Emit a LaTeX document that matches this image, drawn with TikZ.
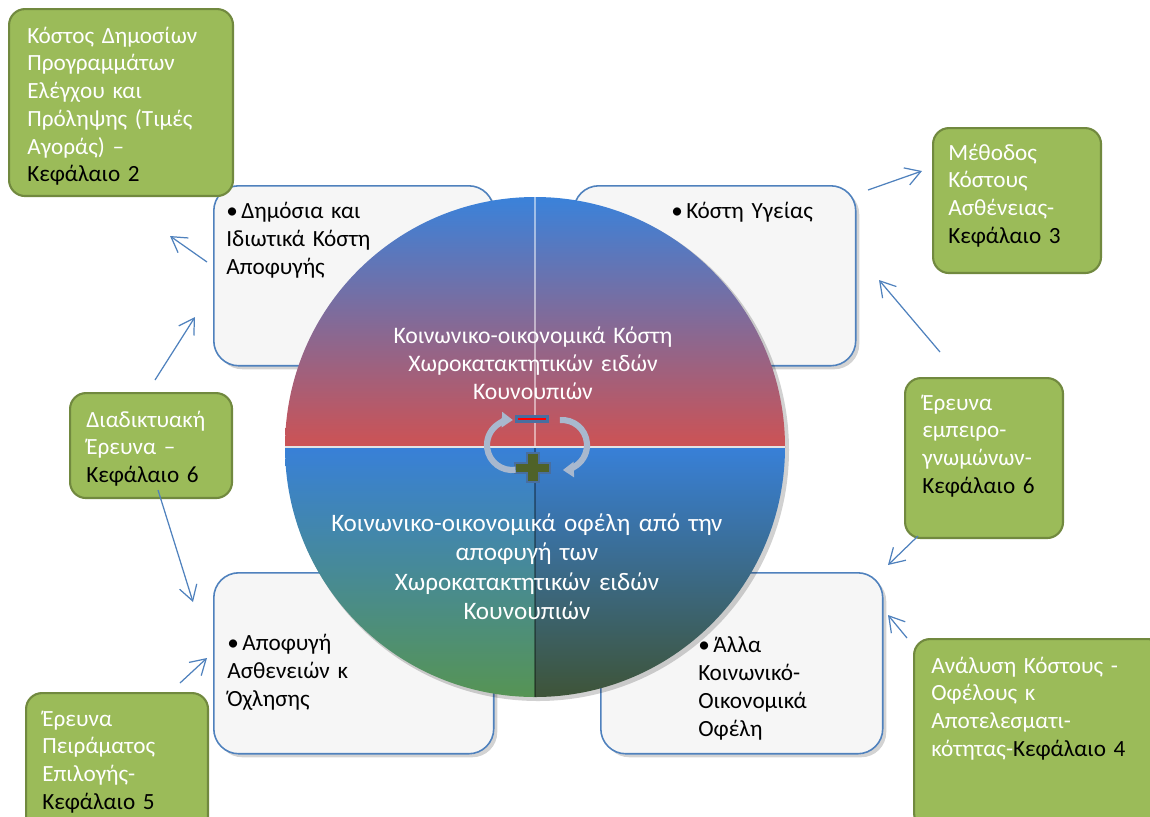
\documentclass[tikz,border=0pt]{standalone}
\usepackage{fontspec}
\setmainfont{Carlito}
\usetikzlibrary{arrows.meta,shadows,positioning}
\definecolor{chapgreen}{RGB}{155,187,89}
\definecolor{chapedge}{RGB}{113,137,63}
\definecolor{panelblue}{RGB}{79,129,189}
\definecolor{panelfill}{RGB}{246,246,246}
\definecolor{costblue}{RGB}{58,130,218}
\definecolor{costred}{RGB}{205,82,84}
\definecolor{gainblue}{RGB}{56,128,216}
\definecolor{gaingreen}{RGB}{86,148,84}
\definecolor{gaindark}{RGB}{62,84,56}
\definecolor{plusolive}{RGB}{79,98,40}
\definecolor{minusbox}{RGB}{72,110,160}
\definecolor{swirlgrey}{RGB}{168,184,206}
\tikzset{chapter/.style={rectangle, draw=chapedge, fill=chapgreen, line width=1.2pt, rounded corners=0.32cm, anchor=north west}}
\tikzset{chaptext/.style={anchor=base west, inner sep=0pt, text width=#1, align=left, text=white, font=\fontsize{13.2}{15.8}\selectfont}}
\tikzset{panel/.style={rectangle, draw=panelblue, fill=panelfill, line width=0.9pt, rounded corners=0.5cm, anchor=north west,
 drop shadow={shadow xshift=2pt, shadow yshift=-2pt, opacity=0.35}}}
\tikzset{paneltext/.style={anchor=base west, inner sep=0pt, text width=#1, align=left, font=\fontsize{13.2}{16}\selectfont}}
\tikzset{line/.style={draw=panelblue, line width=0.7pt, -{Straight Barb[length=0.3cm,width=0.36cm]}}}
\tikzset{swirl/.style={draw=swirlgrey, line width=3.5pt, -{Triangle[length=0.22cm,width=0.3cm]}}}
\newcommand{\kef}[1]{\textcolor{black}{Κεφάλαιο #1}}
\newcommand{\itembullet}{\hangindent=0.3cm\hangafter=1\noindent\makebox[0.3cm][l]{\textbullet}}

\begin{document}
\begin{tikzpicture}[x=0.02cm, y=-0.02cm]
        \useasboundingbox (0,0) rectangle (1150,816);

        % the four panels
        \node[panel, minimum width=5.6cm, minimum height=3.6cm]   (dimosia) at (213,185) {};
        \node[panel, minimum width=5.64cm, minimum height=3.6cm]  (ygeia)   at (573,185) {};
        \node[panel, minimum width=5.6cm, minimum height=3.62cm]  (ochlisi) at (213,572) {};
        \node[panel, minimum width=5.64cm, minimum height=3.62cm] (ofeli)   at (600,572) {};

        % the disc
        \fill[black, opacity=0.18] (538,450) circle[radius=251];
        \shade[top color=costblue, bottom color=costred] (285,447) arc[start angle=180, end angle=360, radius=250] -- cycle;
        \shade[top color=gainblue, bottom color=gaingreen] (535,447) -- (285,447) arc[start angle=180, end angle=90, radius=250] -- cycle;
        \shade[top color=gainblue, bottom color=gaindark] (535,447) -- (535,697) arc[start angle=90, end angle=0, radius=250] -- cycle;
        \draw[white!78!gray, line width=1.6pt] (285,447) -- (785,447);
        \draw[white, opacity=0.5, line width=1.2pt] (535,197) -- (535,446);
        \draw[black, opacity=0.35, line width=0.6pt] (535,448) -- (535,697);

        \node[white, anchor=base, inner sep=0pt, text width=8cm, align=center, font=\fontsize{13.5}{16.2}\selectfont] (kosti) at (533,343)
          {Κοινωνικο-οικονομικά Κόστη\\Χωροκατακτητικών ειδών\\Κουνουπιών};
        \node[white, anchor=base, inner sep=0pt, text width=9cm, align=center, font=\fontsize{14.3}{16.8}\selectfont] (ofelos) at (527,531)
          {Κοινωνικο-οικονομικά οφέλη από την\\αποφυγή των\\Χωροκατακτητικών ειδών\\Κουνουπιών};

        % minus, plus and the turning arrows
        \node[fill=red, draw=minusbox, line width=1.5pt, minimum width=0.62cm, minimum height=0.1cm, inner sep=0pt] (minus) at (532,419) {};
        \draw[draw=minusbox, fill=plusolive, line width=0.8pt] (527,453) -- (539,453) -- (539,463) -- (550,463) -- (550,473) -- (539,473)
          -- (539,482) -- (527,482) -- (527,473) -- (515,473) -- (515,463) -- (527,463) -- cycle;
        \draw[swirl] (512,445) ++(82:25) arc[start angle=82, end angle=272, radius=25];
        \draw[swirl] (562,445) ++(-95:25) arc[start angle=-95, end angle=88, radius=25];

        % panel texts
        \node[paneltext=5cm] (dimosiatxt) at (226,218) {\itembullet Δημόσια και\\Ιδιωτικά Κόστη\\Αποφυγής};
        \node[paneltext=4cm] (ygeiatxt)   at (671,218) {\itembullet Κόστη Υγείας};
        \node[paneltext=5cm] (ochlisitxt) at (227,650) {\itembullet Αποφυγή\\Ασθενειών κ\\Όχλησης};
        \node[paneltext=4cm] (ofelitxt)   at (698,652) {\itembullet Άλλα\\Κοινωνικό-\\Οικονομικά\\Οφέλη};

        % chapter boxes
        \node[chapter, minimum width=4.48cm, minimum height=3.74cm] (kef2) at (8,8) {};
        \node[chaptext=4.3cm] (kef2txt) at (27,43) {Κόστος Δημοσίων\\Προγραμμάτων\\Ελέγχου και\\Πρόληψης (Τιμές\\Αγοράς) –\\\kef{2}};
        \node[chapter, minimum width=3.36cm, minimum height=2.9cm] (kef3) at (932,127) {};
        \node[chaptext=3.2cm] (kef3txt) at (948,160) {Μέθοδος\\Κόστους\\Ασθένειας-\\\kef{3}};
        \node[chapter, minimum width=3.16cm, minimum height=3.2cm] (kef6b) at (904,377) {};
        \node[chaptext=3cm] (kef6btxt) at (922,410) {Έρευνα\\εμπειρο-\\γνωμώνων-\\\kef{6}};
        \node[chapter, minimum width=5cm, minimum height=3.8cm] (kef4) at (913,638) {};
        \node[chaptext=4.8cm] (kef4txt) at (931,673) {Ανάλυση Κόστους -\\Οφέλους κ\\Αποτελεσματι-\\κότητας-\kef{4}};
        \node[chapter, minimum width=3.64cm, minimum height=2.8cm] (kef5) at (25,692) {};
        \node[chaptext=3.4cm] (kef5txt) at (42,726) {Έρευνα\\Πειράματος\\Επιλογής-\\\kef{5}};
        \node[chapter, minimum width=3.24cm, minimum height=2.1cm] (kef6a) at (69,392) {};
        \node[chaptext=3cm] (kef6atxt) at (86,427) {Διαδικτυακή\\Έρευνα –\\\kef{6}};

        % loose arrows
        \coordinate (a1s) at (207,262); \coordinate (a1e) at (170,236);
        \coordinate (a2s) at (155,380); \coordinate (a2e) at (195,317);
        \coordinate (a3s) at (158,490); \coordinate (a3e) at (193,602);
        \coordinate (a4s) at (180,683); \coordinate (a4e) at (207,658);
        \coordinate (a5s) at (868,190); \coordinate (a5e) at (922,171);
        \coordinate (a6s) at (940,352); \coordinate (a6e) at (879,280);
        \coordinate (a7s) at (918,536); \coordinate (a7e) at (888,565);
        \coordinate (a8s) at (907,638); \coordinate (a8e) at (888,615);

        \path[line] (a1s) -- (a1e);
        \path[line] (a2s) -- (a2e);
        \path[line] (a3s) -- (a3e);
        \path[line] (a4s) -- (a4e);
        \path[line] (a5s) -- (a5e);
        \path[line] (a6s) -- (a6e);
        \path[line] (a7s) -- (a7e);
        \path[line] (a8s) -- (a8e);

\end{tikzpicture}
\end{document}
